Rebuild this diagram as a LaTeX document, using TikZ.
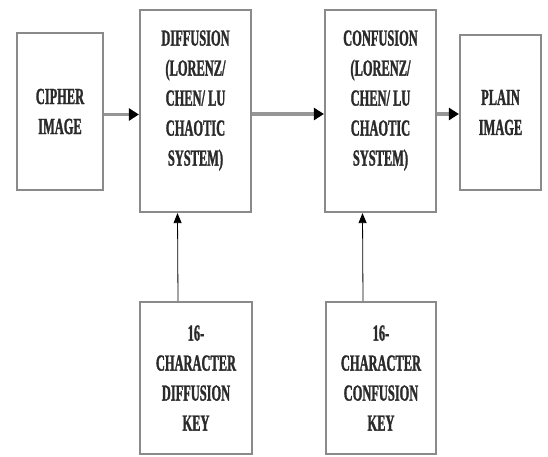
\documentclass[tikz,border=0pt]{standalone}
\usepackage{fontspec}
\newfontfamily\boxfont{Liberation Serif Bold}[FakeStretch=0.54,FakeBold=1.2]
\usetikzlibrary{arrows.meta}
\definecolor{boxgray}{HTML}{8A8A8A}
\definecolor{txt}{HTML}{2A2A2A}
\tikzset{
  blk/.style={draw=boxgray, line width=2.2pt, fill=white, align=center, inner sep=2pt,
    text=txt, font=\boxfont\fontsize{23}{30}\selectfont},
  flow/.style={draw=boxgray!90, line width=3.5pt, -{Triangle[length=10pt,width=12pt,color=black]}},
  keyarrow/.style={draw=black, line width=0.8pt, -{Triangle[length=10pt,width=8pt,color=black]}}
}
\begin{document}
\begin{tikzpicture}[x=1pt,y=-1pt]
\useasboundingbox (0,0) rectangle (548,457);
\node[blk, minimum width=86pt, minimum height=157pt] (cipher) at (60,111.5) {CIPHER\\IMAGE};
\node[blk, minimum width=111pt, minimum height=202pt, text depth=26pt] (diff) at (195.5,111) {DIFFUSION\\(LORENZ/\\CHEN/ LU\\CHAOTIC\\SYSTEM)};
\node[blk, minimum width=111pt, minimum height=202pt, text depth=26pt] (conf) at (380.5,111) {CONFUSION\\(LORENZ/\\CHEN/ LU\\CHAOTIC\\SYSTEM)};
\node[blk, minimum width=81pt, minimum height=155pt] (plain) at (500.5,112.5) {PLAIN\\IMAGE};
\node[blk, minimum width=112pt, minimum height=152pt] (dkey) at (196,378) {16-\\CHARACTER\\DIFFUSION\\KEY};
\node[blk, minimum width=110pt, minimum height=152pt] (ckey) at (381,378) {16-\\CHARACTER\\CONFUSION\\KEY};
\draw[flow] ([yshift=-3pt]cipher.east) -- ([yshift=-3pt]cipher.east -| diff.west);
\draw[flow] ([yshift=-3pt]diff.east) -- ([yshift=-3pt]diff.east -| conf.west);
\draw[flow] ([yshift=-3pt]conf.east) -- ([yshift=-3pt]conf.east -| plain.west);
\draw[keyarrow] ([xshift=-18pt]dkey.north) -- ([xshift=-18pt]diff.south);
\draw[keyarrow] ([xshift=-18pt]ckey.north) -- ([xshift=-18pt]conf.south);
\end{tikzpicture}
\end{document}
